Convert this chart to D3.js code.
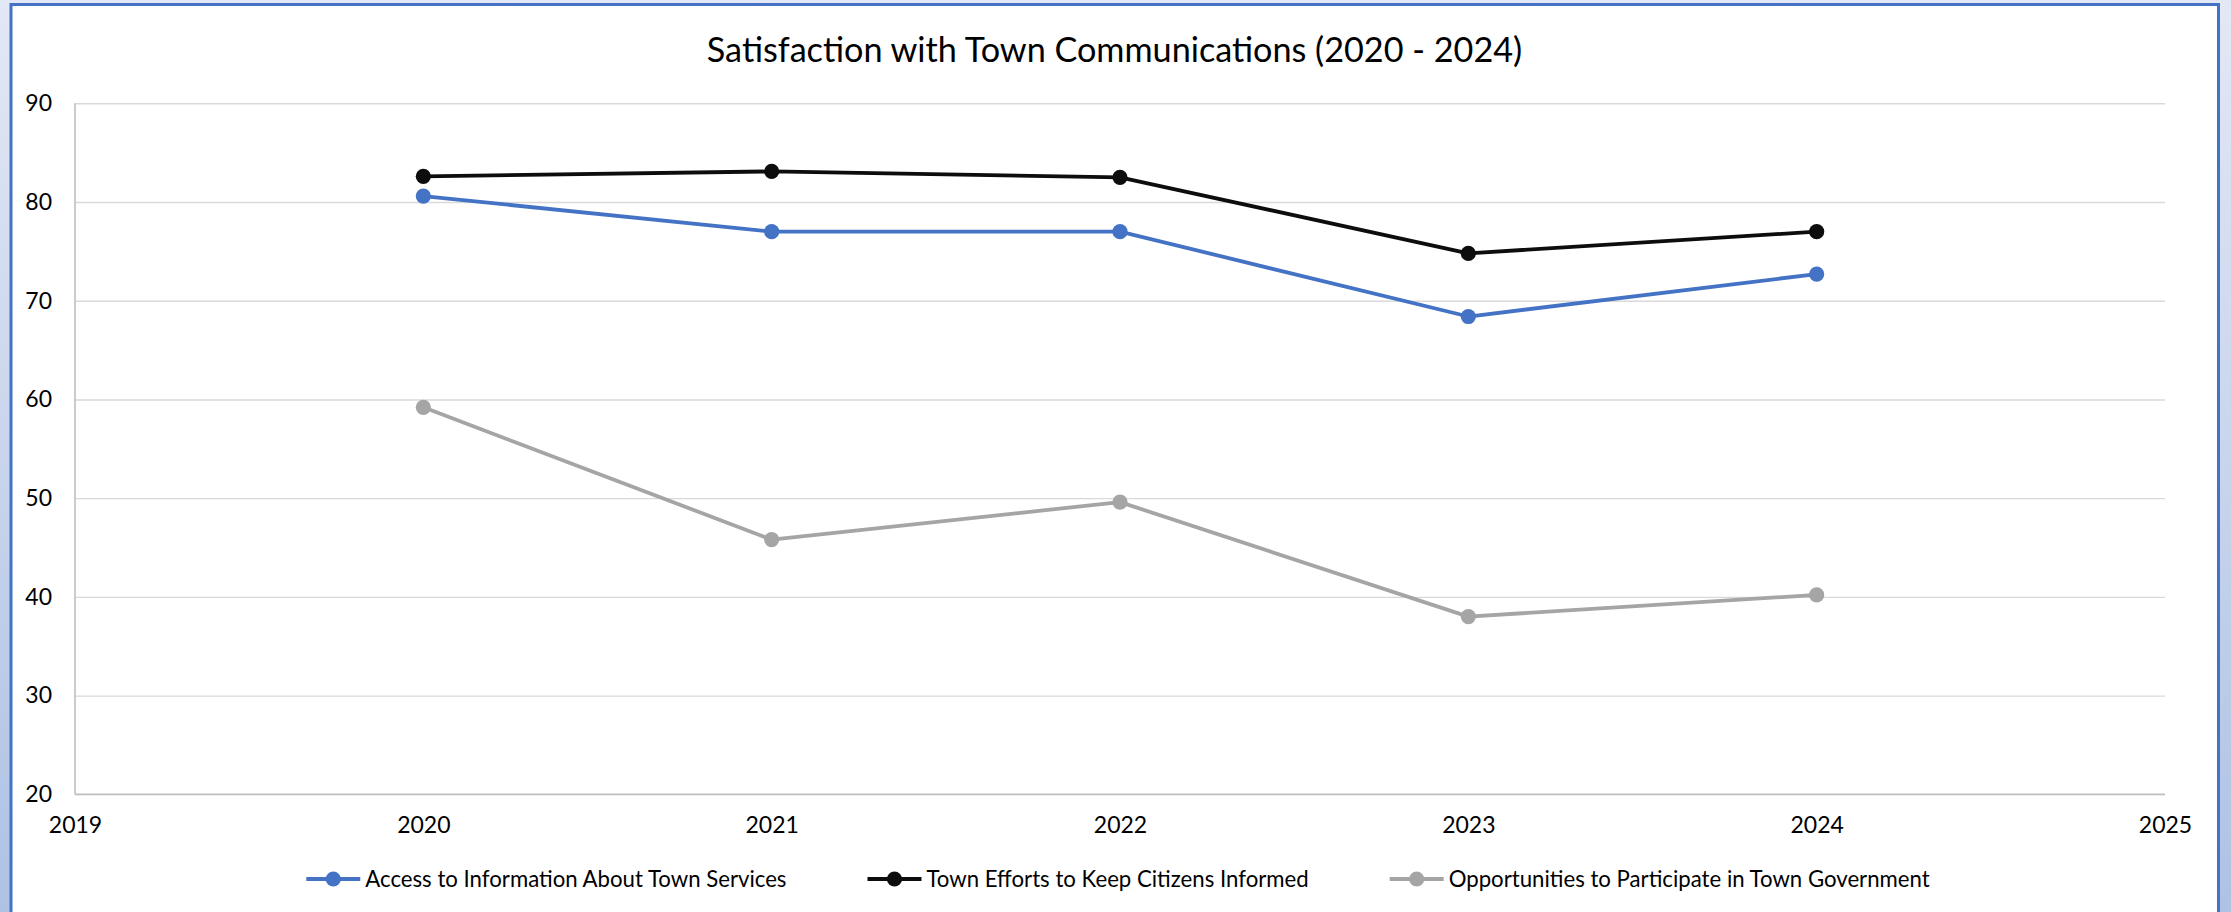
<!DOCTYPE html>
<html><head><meta charset="utf-8">
<script src="https://cdn.jsdelivr.net/npm/d3@7"></script>
<style>
html,body{margin:0;padding:0;background:#fff;overflow:hidden;}
svg{display:block;font-family:Lato,"Open Sans",sans-serif;}
</style></head><body>
<svg id="chart" width="2231" height="912"></svg>
<script>
// ---- data ----
const chartTitle = "Satisfaction with Town Communications (2020 - 2024)";
const years = [2020, 2021, 2022, 2023, 2024];
const seriesNames = [
  "Access to Information About Town Services",
  "Town Efforts to Keep Citizens Informed",
  "Opportunities to Participate in Town Government"
];
const accessValues = [80.6, 77.0, 77.0, 68.4, 72.7];
const effortsValues = [82.6, 83.1, 82.5, 74.8, 77.0];
const participateValues = [59.2, 45.8, 49.6, 38.0, 40.2];
const seriesColors = ["#4472C4", "#0D0D0D", "#A5A5A5"];
const xTicks = [2019, 2020, 2021, 2022, 2023, 2024, 2025];
const yTicks = [20, 30, 40, 50, 60, 70, 80, 90];

const series = [accessValues, effortsValues, participateValues].map((vals, i) => ({
  name: seriesNames[i], color: seriesColors[i],
  points: years.map((y, j) => ({ year: y, value: vals[j] }))
}));

// ---- layout ----
const W = 2231, H = 912;
const plot = { left: 75, right: 2165, top: 103.3, bottom: 794.3 };
const svg = d3.select("#chart");

const defs = svg.append("defs");
const grad = defs.append("linearGradient").attr("id", "bg").attr("x1", 0).attr("y1", 0).attr("x2", 0).attr("y2", 1);
grad.append("stop").attr("offset", "0%").attr("stop-color", "#e2e8f5");
grad.append("stop").attr("offset", "100%").attr("stop-color", "#aec2e4");
svg.append("rect").attr("width", W).attr("height", H).attr("fill", "url(#bg)");
svg.append("rect").attr("x", 11).attr("y", 4.5).attr("width", 2207.5).attr("height", 1000)
  .attr("fill", "#fff").attr("stroke", "#4472C4").attr("stroke-width", 3);

const x = d3.scaleLinear().domain([2019, 2025]).range([plot.left, plot.right]);
const y = d3.scaleLinear().domain([20, 90]).range([plot.bottom, plot.top]);

const tickFont = 23;

// gridlines + y axis
const yAxis = d3.axisLeft(y).tickValues(yTicks).tickFormat(d3.format("d"))
  .tickSize(-(plot.right - plot.left)).tickPadding(23);
const gy = svg.append("g").attr("transform", `translate(${plot.left},0)`).call(yAxis);
gy.select(".domain").remove();
gy.selectAll(".tick line").attr("stroke", "#d9d9d9").attr("stroke-width", 1.4);
gy.selectAll(".tick text").attr("font-size", tickFont).attr("fill", "#000").attr("font-family", "Lato");

// x axis
const xAxis = d3.axisBottom(x).tickValues(xTicks).tickFormat(d3.format("d")).tickSize(0).tickPadding(0);
const gx = svg.append("g").attr("transform", `translate(0,${plot.bottom})`).call(xAxis);
gx.select(".domain").remove();
gx.selectAll(".tick text").attr("font-size", tickFont).attr("fill", "#000").attr("font-family", "Lato")
  .attr("y", 31).attr("dy", "0.35em");

// axis lines
svg.append("line").attr("x1", plot.left).attr("x2", plot.left).attr("y1", plot.top).attr("y2", plot.bottom)
  .attr("stroke", "#bfbfbf").attr("stroke-width", 1.6);
svg.append("line").attr("x1", plot.left).attr("x2", plot.right).attr("y1", plot.bottom).attr("y2", plot.bottom)
  .attr("stroke", "#bfbfbf").attr("stroke-width", 1.6);

// series
const line = d3.line().x(d => x(d.year)).y(d => y(d.value));
const sg = svg.append("g").selectAll("g").data(series).join("g");
sg.append("path").attr("d", d => line(d.points)).attr("fill", "none")
  .attr("stroke", d => d.color).attr("stroke-width", 3.8).attr("stroke-linejoin", "round");
sg.selectAll("circle").data(d => d.points.map(p => ({ ...p, color: d.color }))).join("circle")
  .attr("cx", d => x(d.year)).attr("cy", d => y(d.value)).attr("r", 7.6).attr("fill", d => d.color);

// title
svg.append("text").attr("x", 1114.5).attr("y", 50).attr("dy", "0.35em").attr("text-anchor", "middle")
  .attr("font-size", 34.2).attr("fill", "#000").text(chartTitle);

// legend
const legendY = 879, markerW = 54, textGap = 5, itemGap = 81, legendCenter = 1118;
const lg = svg.append("g");
const items = lg.selectAll("g").data(series).join("g");
items.append("text").attr("font-size", 22.2).attr("fill", "#000").attr("dy", "0.35em")
  .attr("x", markerW + textGap).text(d => d.name);
const widths = [];
items.each(function () { widths.push(markerW + textGap + d3.select(this).select("text").node().getComputedTextLength()); });
const total = d3.sum(widths) + itemGap * (widths.length - 1);
let cur = legendCenter - total / 2;
items.attr("transform", (d, i) => { const t = `translate(${cur},${legendY})`; cur += widths[i] + itemGap; return t; });
items.append("line").attr("x1", 0).attr("x2", markerW).attr("y1", 0).attr("y2", 0)
  .attr("stroke", d => d.color).attr("stroke-width", 3.8);
items.append("circle").attr("cx", markerW / 2).attr("cy", 0).attr("r", 7.6).attr("fill", d => d.color);
</script>
</body></html>
